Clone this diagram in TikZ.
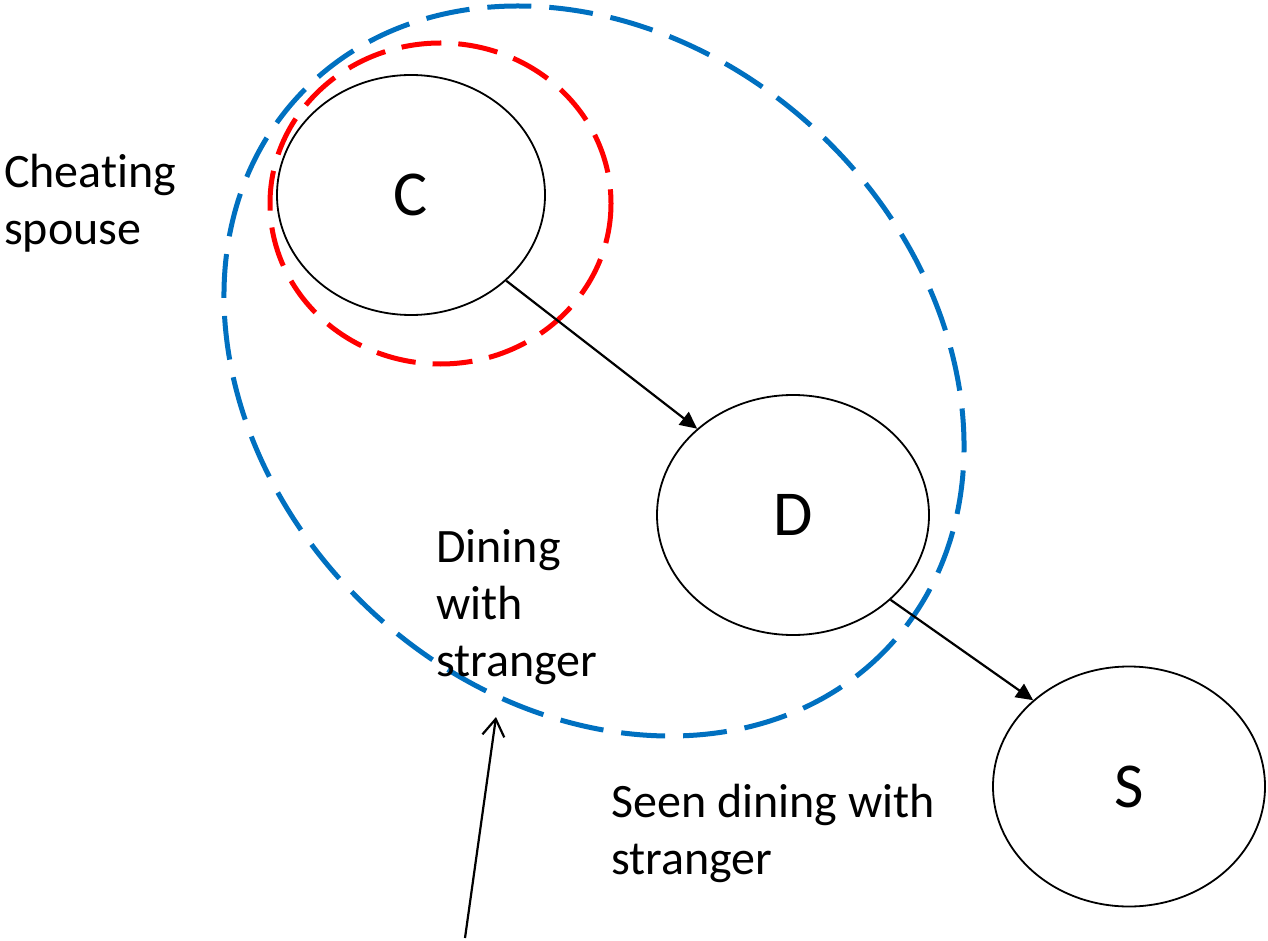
\documentclass[tikz,border=0pt]{standalone}
\usepackage{fontspec}
\setmainfont{Carlito}[Ligatures=NoCommon]
\usetikzlibrary{shapes.geometric,arrows.meta}
\definecolor{offblue}{RGB}{0,112,192}
\definecolor{offred}{RGB}{255,0,0}
\begin{document}
\begin{tikzpicture}[x=1pt,y=-1pt,
  oval/.style={ellipse, draw=black, line width=1.8pt, inner sep=0pt,
    font=\fontsize{64}{77}\selectfont},
  lbl/.style={anchor=base west, inner sep=0pt,
    font=\fontsize{48}{57}\selectfont},
  link/.style={line width=2.2pt, -{Triangle[length=17pt,width=16pt]}},
  pointer/.style={line width=2.2pt, -{Straight Barb[length=17pt,width=22pt]}},
  bluedash/.style={draw=offblue, line width=5pt, dash pattern=on 44pt off 18pt},
  reddash/.style={draw=offred, line width=5pt, dash pattern=on 40pt off 17pt}
]
\useasboundingbox (0,0) rectangle (1268,941);

% dashed groupings
\draw[bluedash, shift={(594,371)}, rotate=-43.1] (0,0) ellipse [x radius=403.6, y radius=327.5];
\draw[reddash] (440.5,203.5) ellipse [x radius=170.5, y radius=160.5];

% nodes
\node[oval, minimum width=268pt, minimum height=240pt] (C) at (411,195) {C};
\node[oval, minimum width=272pt, minimum height=240pt] (D) at (793,515) {D};
\node[oval, minimum width=272pt, minimum height=240pt] (S) at (1129,786.5) {S};

% connectors
\draw[link] (C.-42) -- (D.138.7);
\draw[link] (D.-41.5) -- (S.138.3);

\coordinate (p1) at (465,938);
\coordinate (p2) at (496,717);
\draw[pointer] (p1) -- (p2);

% labels
\node[lbl] (cs) at (4,188) {\begin{tabular}[t]{@{}l@{}}Cheating\\spouse\end{tabular}};
\node[lbl] (dws) at (436,562) {\begin{tabular}[t]{@{}l@{}}Dining\\with\\stranger\end{tabular}};
\node[lbl] (sdws) at (611,817) {\begin{tabular}[t]{@{}l@{}}Seen dining with\\stranger\end{tabular}};
\end{tikzpicture}
\end{document}
